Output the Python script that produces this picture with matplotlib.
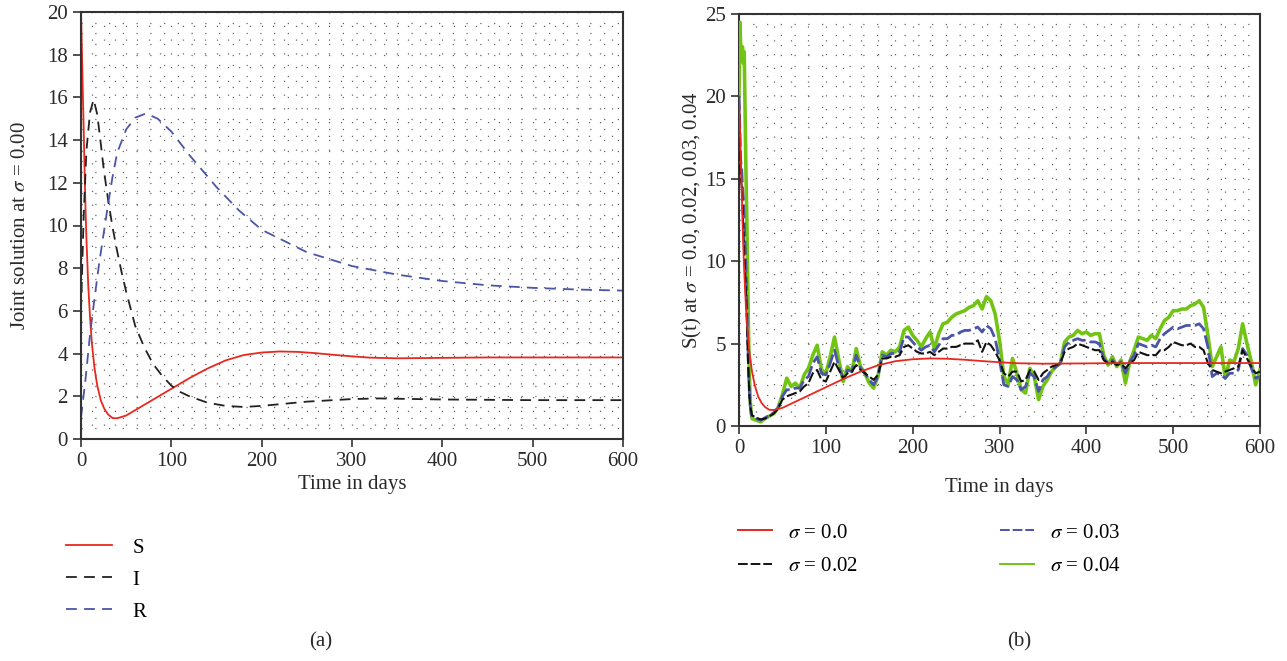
# Deterministiskt SIR-förlopp (a) och stokastiska S(t)-banor för olika sigma (b)
import matplotlib.pyplot as plt
from matplotlib.ticker import MultipleLocator

plt.rcParams['font.family'] = ['Liberation Serif', 'DejaVu Serif']
plt.rcParams['mathtext.fontset'] = 'stix'

# --- data, panel (a) ---
s_days = [0, 1, 2, 3, 4, 5, 6, 8, 10, 12, 15, 18, 22, 26, 30, 35, 40, 50, 60, 70,
          80, 100, 120, 140, 160, 180, 200, 220, 240, 260, 280, 300, 320, 350, 400, 450, 600]
s_vals = [20.0, 18.2, 16.3, 14.5, 12.5, 10.8, 9.4, 7.2, 5.7, 4.5, 3.3, 2.5, 1.8, 1.4, 1.15, 0.98, 0.97, 1.1, 1.35, 1.6,
          1.85, 2.35, 2.85, 3.3, 3.68, 3.93, 4.05, 4.1, 4.08, 4.02, 3.94, 3.87, 3.81, 3.78, 3.8, 3.82, 3.82]

i_days = [0, 3, 6, 10, 14, 18, 22, 25, 30, 35, 40, 45, 50, 55, 60, 70, 80, 90, 100, 110,
          120, 140, 160, 180, 200, 250, 300, 330, 400, 500, 600]
i_vals = [6.0, 10.5, 13.5, 15.3, 15.9, 15.2, 13.8, 12.7, 11.2, 9.9, 8.8, 7.8, 6.9, 6.1, 5.3, 4.3, 3.5, 2.95, 2.5, 2.2,
          2.0, 1.7, 1.55, 1.5, 1.55, 1.75, 1.87, 1.9, 1.85, 1.82, 1.82]

r_days = [0, 5, 10, 15, 20, 25, 30, 35, 40, 50, 60, 72, 85, 100, 120, 150, 175, 200, 250, 300,
          350, 400, 450, 500, 550, 600]
r_vals = [1.0, 2.8, 4.9, 6.6, 8.2, 9.6, 11.0, 12.3, 13.4, 14.5, 15.05, 15.25, 15.0, 14.4, 13.3, 11.8, 10.7, 9.8, 8.75, 8.1,
          7.7, 7.4, 7.2, 7.08, 7.0, 6.95]

# --- data, panel (b) ---
days_b = list(range(0, 15)) + list(range(15, 601, 5))

s_002 = [20, 17.0, 15.0, 14.6, 13.5, 12.0, 10.5, 9.5, 8.0, 6.5, 4.5, 3.0, 1.8, 1.2, 0.9,
         0.65, 0.5, 0.4, 0.45, 0.6, 0.75, 1.05, 1.6, 1.8, 1.9,
         2.0, 2.1, 2.4, 2.6, 3.2, 3.4, 2.8, 2.7, 3.3, 3.9,
         3.4, 2.9, 3.2, 3.3, 3.7, 3.4, 3.2, 3.0, 2.8, 3.1,
         4.1, 4.1, 4.2, 4.2, 4.3, 4.8, 4.9, 4.7, 4.5, 4.4,
         4.4, 4.5, 4.3, 4.5, 4.7, 4.7, 4.8, 4.8, 4.9, 5.0,
         5.0, 5.0, 5.2, 4.5, 5.1, 4.9, 4.5, 4.0, 3.2, 3.0,
         3.3, 3.3, 2.7, 2.8, 3.4, 3.3, 2.8, 3.2, 3.4, 3.6,
         3.7, 3.8, 4.5, 4.7, 4.8, 5.0, 4.9, 4.8, 4.7, 4.6,
         4.6, 4.0, 3.8, 3.9, 3.7, 3.8, 3.5, 3.8, 4.0, 4.5,
         4.4, 4.3, 4.3, 4.3, 4.6, 4.6, 4.8, 5.1, 5.0, 4.9,
         4.9, 5.0, 4.8, 4.8, 4.6, 3.8, 3.4, 3.3, 3.2, 3.3,
         3.4, 3.5, 3.6, 4.6, 4.1, 3.6, 3.2, 3.3]

s_003 = [20, 18.0, 16.0, 15.8, 14.5, 13.8, 12.5, 11.0, 9.5, 7.5, 5.5, 3.5, 2.0, 1.2, 0.8,
         0.55, 0.45, 0.35, 0.5, 0.65, 0.8, 1.1, 1.8, 2.2, 2.2,
         2.3, 2.3, 2.8, 3.0, 3.8, 4.2, 3.2, 3.1, 3.8, 4.6,
         3.6, 2.9, 3.4, 3.3, 4.3, 3.5, 3.2, 2.8, 2.5, 3.0,
         4.3, 4.2, 4.4, 4.4, 4.5, 5.4, 5.4, 5.1, 4.8, 4.6,
         4.8, 4.9, 4.5, 4.9, 5.3, 5.3, 5.5, 5.5, 5.7, 5.8,
         5.8, 5.9, 6.0, 5.7, 6.1, 5.9, 5.3, 4.0, 2.5, 2.4,
         3.0, 2.8, 2.2, 2.4, 3.2, 3.0, 2.1, 2.8, 3.0, 3.4,
         3.6, 3.8, 4.8, 5.1, 5.2, 5.3, 5.2, 5.2, 5.1, 5.1,
         5.0, 4.1, 3.8, 4.0, 3.7, 3.9, 3.2, 3.9, 4.3, 5.0,
         4.9, 4.8, 4.9, 4.8, 5.3, 5.6, 5.8, 6.0, 5.9, 6.0,
         6.1, 6.1, 6.1, 6.2, 5.9, 4.8, 3.0, 3.2, 3.1, 2.9,
         3.2, 3.2, 3.4, 4.7, 4.3, 3.5, 2.9, 3.0]

s_004 = [20, 24.5, 23.0, 22.6, 23.0, 22.0, 22.7, 19.0, 15.5, 12.5, 9.0, 5.5, 3.0, 1.5, 0.8,
         0.45, 0.35, 0.25, 0.45, 0.6, 0.75, 1.1, 1.9, 2.9, 2.4,
         2.6, 2.3, 3.1, 3.5, 4.3, 4.9, 3.4, 3.2, 4.2, 5.4,
         4.0, 2.7, 3.6, 3.3, 4.7, 3.6, 3.2, 2.6, 2.3, 3.0,
         4.5, 4.3, 4.6, 4.5, 4.8, 5.8, 6.0, 5.5, 5.2, 4.8,
         5.3, 5.7, 4.7, 5.6, 6.2, 6.3, 6.6, 6.8, 6.9, 7.0,
         7.2, 7.3, 7.6, 7.1, 7.85, 7.6, 6.8, 5.2, 3.0, 2.5,
         4.1, 3.2, 2.2, 2.0, 3.5, 3.0, 1.6, 2.4, 2.8, 3.3,
         3.6, 3.8, 5.1, 5.4, 5.5, 5.8, 5.6, 5.7, 5.5, 5.6,
         5.6, 4.3, 3.7, 4.2, 3.6, 4.0, 2.6, 3.9, 4.6, 5.4,
         5.3, 5.2, 5.5, 5.3, 5.9, 6.4, 6.6, 7.0, 7.0, 7.1,
         7.1, 7.3, 7.4, 7.6, 7.2, 5.5, 3.6, 4.2, 4.8, 2.9,
         4.0, 3.9, 4.7, 6.2, 5.0, 3.9, 2.5, 3.4]

RED = '#e8281e'
BLUE = '#4b55a8'
GREEN = '#72c414'
TXT = '#2a2a2a'
FS = 15

fig = plt.figure(figsize=(12.87, 6.61), dpi=100)
ax1 = fig.add_axes([81 / 1287, 1 - 439 / 661, 542 / 1287, 427 / 661])
ax2 = fig.add_axes([739 / 1287, 1 - 426 / 661, 521 / 1287, 412 / 661])


def style_axes(ax, xminor, yminor):
    ax.xaxis.set_minor_locator(MultipleLocator(xminor))
    ax.yaxis.set_minor_locator(MultipleLocator(yminor))
    ax.grid(which='both', color='#666666', linestyle=(0, (1, 10)), linewidth=0.9)
    ax.set_axisbelow(True)
    ax.tick_params(which='major', direction='out', length=6, width=1.2,
                   labelsize=FS, labelcolor=TXT, color='#333333')
    ax.tick_params(which='minor', length=0)
    for sp in ax.spines.values():
        sp.set_color('#333333')
        sp.set_linewidth(1.5)


# Panel (a)
ax1.plot(s_days, s_vals, color=RED, lw=1.3, label='S')
ax1.plot(i_days, i_vals, color='#222222', lw=1.3, dashes=(6, 4), label='I')
ax1.plot(r_days, r_vals, color=BLUE, lw=1.3, dashes=(6, 4), label='R')
ax1.set_xlim(0, 600)
ax1.set_ylim(0, 20)
ax1.set_xticks([0, 100, 200, 300, 400, 500, 600])
ax1.set_yticks(range(0, 21, 2))
style_axes(ax1, 12.5, 0.5)
ax1.set_xlabel('Time in days', fontsize=FS, color=TXT, labelpad=3)
ax1.set_ylabel(r'Joint solution at $\sigma$ = 0.00', fontsize=FS, color=TXT, labelpad=12)

# Panel (b)
ax2.plot(days_b, s_004, color=GREEN, lw=2.6, label=r'$\sigma$ = 0.04', zorder=3)
ax2.plot(days_b, s_003, color=BLUE, lw=2.0, dashes=(5, 1.5), label=r'$\sigma$ = 0.03', zorder=4)
ax2.plot(days_b, s_002, color='#111111', lw=1.5, dashes=(5, 1.5), label=r'$\sigma$ = 0.02', zorder=5)
ax2.plot(s_days, s_vals, color=RED, lw=1.3, label=r'$\sigma$ = 0.0', zorder=6)
ax2.set_xlim(0, 600)
ax2.set_ylim(0, 25)
ax2.set_xticks([0, 100, 200, 300, 400, 500, 600])
ax2.set_yticks([0, 5, 10, 15, 20, 25])
style_axes(ax2, 20, 0.625)
ax2.set_xlabel('Time in days', fontsize=FS, color=TXT, labelpad=14)
ax2.set_ylabel(r'S(t) at $\sigma$ = 0.0, 0.02, 0.03, 0.04', fontsize=FS, color=TXT, labelpad=1)

# Legends
h1, l1 = ax1.get_legend_handles_labels()
fig.legend(h1, l1, loc='upper left', bbox_to_anchor=(66 / 1287, 1 - 538 / 661),
           frameon=False, fontsize=FS, handlelength=2.2, handletextpad=1.0,
           labelspacing=0.6, borderpad=0, borderaxespad=0)

h2, l2 = ax2.get_legend_handles_labels()
order = [3, 2, 1, 0]
leg2 = fig.legend([h2[k] for k in order], [l2[k] for k in order], ncol=2,
                  loc='upper left', bbox_to_anchor=(738 / 1287, 1 - 523 / 661),
                  frameon=False, fontsize=FS, handlelength=1.65, handletextpad=0.75,
                  labelspacing=0.68, columnspacing=6.8, borderpad=0, borderaxespad=0)
for ln in leg2.get_lines():
    ln.set_linewidth(1.4)

fig.text(321 / 1287, 1 - 642 / 661, '(a)', fontsize=FS, color=TXT, ha='center', va='center')
fig.text(1019 / 1287, 1 - 642 / 661, '(b)', fontsize=FS, color=TXT, ha='center', va='center')

fig.savefig('out.png', dpi=100)
